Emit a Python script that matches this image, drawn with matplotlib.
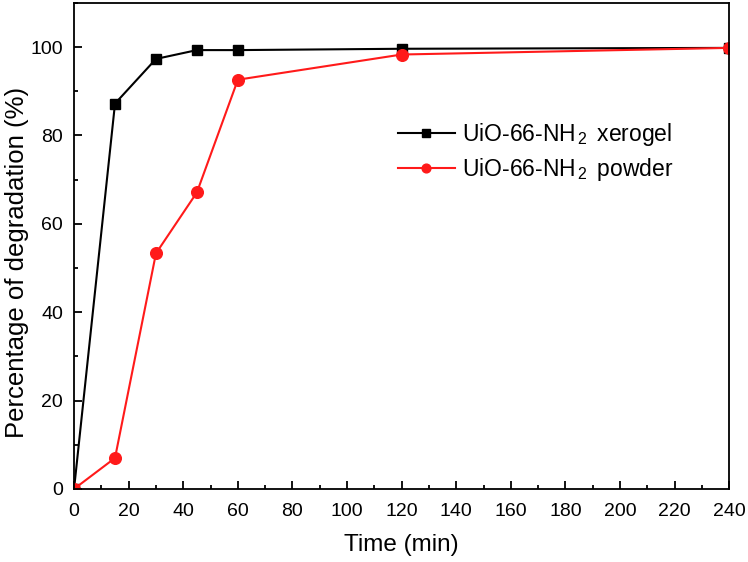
import matplotlib
matplotlib.use("Agg")
import matplotlib.pyplot as plt
from matplotlib.ticker import MultipleLocator

plt.rcParams['font.family'] = ['Liberation Sans', 'DejaVu Sans']
plt.rcParams['mathtext.fontset'] = 'custom'
plt.rcParams['mathtext.rm'] = 'Liberation Sans'
plt.rcParams['mathtext.it'] = 'Liberation Sans'

time_min = [0, 15, 30, 45, 60, 120, 240]
xerogel = [0, 87.2, 97.3, 99.3, 99.3, 99.6, 99.8]
powder = [0, 7.0, 53.3, 67.1, 92.6, 98.3, 99.8]
labels = [r"UiO-66-NH$_{\,2}\,$ xerogel", r"UiO-66-NH$_{\,2}\,$ powder"]

fig = plt.figure(figsize=(7.48, 5.62), dpi=100)
ax = fig.add_axes([0.099, 0.130, 0.876, 0.865])

ax.plot(time_min, xerogel, color='black', marker='s', markersize=7.2, linewidth=1.5, label=labels[0])
ax.plot(time_min, powder, color='#ff1a1a', marker='o', markersize=8.4, linewidth=1.5, label=labels[1])

ax.set_xlim(0, 240)
ax.set_ylim(0, 110)
ax.xaxis.set_major_locator(MultipleLocator(20))
ax.xaxis.set_minor_locator(MultipleLocator(10))
ax.yaxis.set_major_locator(MultipleLocator(20))
ax.yaxis.set_minor_locator(MultipleLocator(10))
ax.tick_params(which='both', direction='in', top=False, right=False, width=1.3)
ax.tick_params(which='major', length=6, labelsize=14)
ax.tick_params(axis='x', which='major', pad=10)
ax.tick_params(axis='y', which='major', pad=8)
ax.tick_params(which='minor', length=3)
for s in ax.spines.values():
    s.set_linewidth(1.3)

ax.set_xlabel("Time (min)", fontsize=17.5)
ax.set_ylabel("Percentage of degradation (%)", fontsize=18.5)
ax.xaxis.set_label_coords(0.5, -0.092)
ax.yaxis.set_label_coords(-0.068, 0.465)

ax.legend(loc='upper left', bbox_to_anchor=(0.494, 0.757), frameon=False, fontsize=16.5,
          borderaxespad=0, borderpad=0, markerscale=0.75,
          handlelength=2.49, handletextpad=0.3, labelspacing=0.35)

fig.savefig("out.png", dpi=100)
